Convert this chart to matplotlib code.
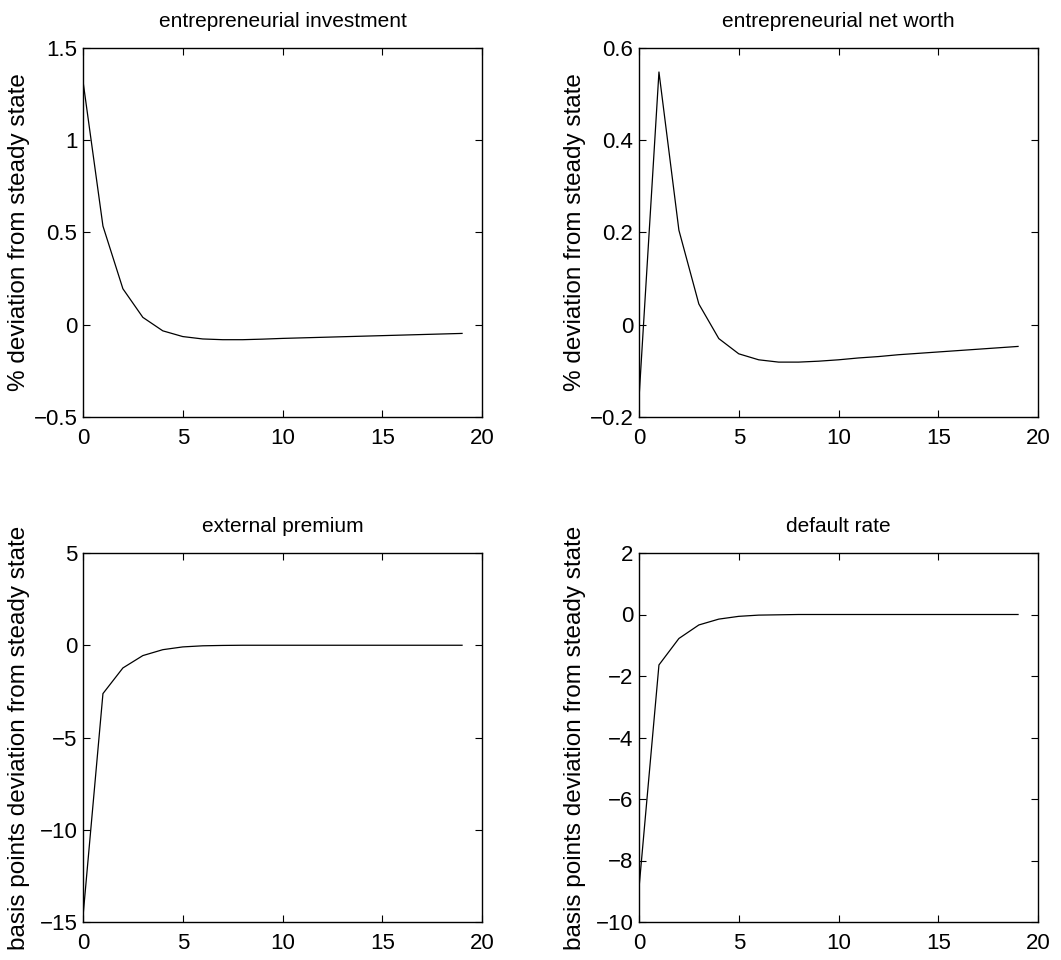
import numpy as np
import matplotlib
matplotlib.use('Agg')
import matplotlib.pyplot as plt

plt.rcParams['font.family'] = ['Liberation Sans', 'DejaVu Sans']

# quarters after the shock
periods = np.arange(20)

# responses
investment = [1.32, 0.535, 0.195, 0.04, -0.033, -0.064, -0.077, -0.081, -0.081, -0.078,
              -0.074, -0.071, -0.068, -0.065, -0.062, -0.059, -0.056, -0.053, -0.050, -0.047]
net_worth = [-0.16, 0.548, 0.205, 0.045, -0.03, -0.063, -0.076, -0.081, -0.081, -0.079,
             -0.076, -0.072, -0.069, -0.065, -0.062, -0.059, -0.056, -0.053, -0.050, -0.047]
premium = [-14.7, -2.62, -1.23, -0.56, -0.24, -0.09, -0.03, -0.01, 0.0, 0.0,
           0.0, 0.0, 0.0, 0.0, 0.0, 0.0, 0.0, 0.0, 0.0, 0.0]
default_rate = [-8.9, -1.64, -0.78, -0.34, -0.15, -0.06, -0.02, -0.01, 0.0, 0.0,
                0.0, 0.0, 0.0, 0.0, 0.0, 0.0, 0.0, 0.0, 0.0, 0.0]

titles = ['entrepreneurial investment', 'entrepreneurial net worth',
          'external premium', 'default rate']
ylabels = ['% deviation from steady state', '% deviation from steady state',
           'basis points deviation from steady state', 'basis points deviation from steady state']
ylims = [(-0.5, 1.5), (-0.2, 0.6), (-15, 5), (-10, 2)]
yticks = [[-0.5, 0, 0.5, 1, 1.5], [-0.2, 0, 0.2, 0.4, 0.6],
          [-15, -10, -5, 0, 5], [-10, -8, -6, -4, -2, 0, 2]]
yticklabels = [['\u22120.5', '0', '0.5', '1', '1.5'], ['\u22120.2', '0', '0.2', '0.4', '0.6'],
               ['\u221215', '\u221210', '\u22125', '0', '5'],
               ['\u221210', '\u22128', '\u22126', '\u22124', '\u22122', '0', '2']]
series = [investment, net_worth, premium, default_rate]

W, H = 1061, 960
fig = plt.figure(figsize=(W / 100, H / 100), dpi=100)

# axes boxes in pixels: left, top, right, bottom
boxes = [(83, 48, 482, 417), (639, 48, 1038, 417),
         (83, 553, 482, 922), (639, 553, 1038, 922)]

for i, (l, t, r, b) in enumerate(boxes):
    ax = fig.add_axes([l / W, 1 - b / H, (r - l) / W, (b - t) / H])
    ax.plot(periods, series[i], color='black', lw=0.9)
    ax.set_xlim(0, 20)
    ax.set_ylim(*ylims[i])
    ax.set_xticks([0, 5, 10, 15, 20])
    ax.set_yticks(yticks[i])
    ax.set_yticklabels(yticklabels[i])
    ax.tick_params(direction='in', top=True, right=True, length=5, width=0.8,
                   labelsize=16)
    ax.tick_params(axis='x', pad=8)
    ax.tick_params(axis='y', pad=4)
    for s in ax.spines.values():
        s.set_linewidth(1.0)
    ax.set_title(titles[i], fontsize=15, pad=15)
    ax.set_ylabel(ylabels[i], fontsize=17.5)
    # label sits about 53 px left of the left spine
    ax.yaxis.set_label_coords(-53 / (r - l), 0.5)

fig.savefig('out.png', dpi=100, facecolor='white')
